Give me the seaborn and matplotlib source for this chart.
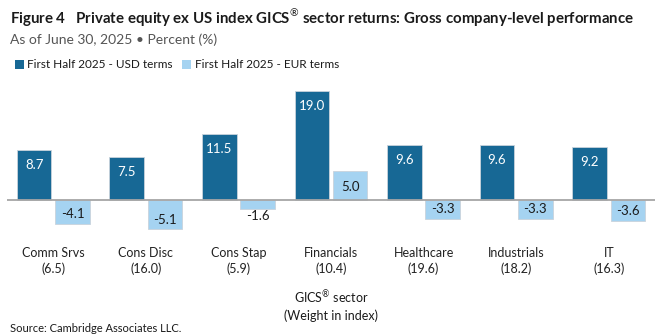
import matplotlib
matplotlib.use("Agg")
import matplotlib.pyplot as plt
import seaborn as sns
import pandas as pd
from matplotlib.patches import Patch

sectors = ["Comm Srvs", "Cons Disc", "Cons Stap", "Financials", "Healthcare", "Industrials", "IT"]
weights = ["6.5", "16.0", "5.9", "10.4", "19.6", "18.2", "16.3"]
usd = [8.7, 7.5, 11.5, 19.0, 9.6, 9.6, 9.2]
eur = [-4.1, -5.1, -1.6, 5.0, -3.3, -3.3, -3.6]
series_names = ["First Half 2025 - USD terms", "First Half 2025 - EUR terms"]
colors = ["#176895", "#a5d3f1"]

sns.set_style("white")
plt.rcParams["font.family"] = ["Lato", "DejaVu Sans"]
plt.rcParams["mathtext.fontset"] = "custom"
plt.rcParams["mathtext.rm"] = "Lato"
plt.rcParams["mathtext.bf"] = "Lato:bold"

labels = [f"{s}\n({w})" for s, w in zip(sectors, weights)]
df = pd.DataFrame({
    "label": labels * 2,
    "value": usd + eur,
    "series": [series_names[0]] * len(usd) + [series_names[1]] * len(eur),
})

W, H = 672, 336
fig = plt.figure(figsize=(W / 100, H / 100), dpi=100)
ppu = 5.75
ymin, ymax = -6, 20
zero_px = 200
top_px = zero_px - ymax * ppu
bot_px = zero_px - ymin * ppu
ax = fig.add_axes([7 / W, 1 - bot_px / H, (655 - 7) / W, (bot_px - top_px) / H])

sns.barplot(data=df, x="label", y="value", hue="series", palette=colors,
            saturation=1, width=0.83, gap=0.1, edgecolor="#c9d3dc", linewidth=0.6,
            legend=False, ax=ax)
ax.set_ylim(ymin, ymax)
ax.set_xlim(-0.5, 6.5)
ax.axhline(0, color="#a6a6a6", lw=1.3, zorder=5)
for sp in ax.spines.values():
    sp.set_visible(False)
ax.set_yticks([])
ax.set_xlabel("")
ax.set_ylabel("")
ax.tick_params(axis="x", length=0, pad=9, labelsize=9, colors="#222222")
for t in ax.get_xticklabels():
    t.set_linespacing(1.3)

for ci, cont in enumerate(ax.containers):
    for bar in cont:
        h = bar.get_height()
        x = bar.get_x() + bar.get_width() / 2
        if h >= 0:
            ax.annotate(f"{h:.1f}", (x, h), xytext=(0, -11), textcoords="offset points",
                        ha="center", va="center", fontsize=9.5,
                        color="white" if ci == 0 else "#1a1a1a")
        else:
            if -h * ppu > 16:
                off = 7
            else:
                off = -5
            ax.annotate(f"{h:.1f}", (x, h), xytext=(0, off), textcoords="offset points",
                        ha="center", va="center", fontsize=9.5, color="#1a1a1a")

fig.text(10 / W, 1 - 18 / H,
         "Figure 4   Private equity ex US index GICS$^{\u00ae}$ sector returns: Gross company-level performance",
         fontsize=10.8, fontweight="bold", color="#1a1a1a", va="center", ha="left")
fig.text(10 / W, 1 - 40 / H, "As of June 30, 2025 \u2022 Percent (%)",
         fontsize=10, color="#555555", va="center", ha="left")

handles = [Patch(facecolor=c, edgecolor="none") for c in colors]
fig.legend(handles, series_names, loc="center left", bbox_to_anchor=(15 / W, 1 - 65 / H),
           ncol=2, frameon=False, fontsize=8.5, handlelength=0.75, handleheight=0.75,
           handletextpad=0.3, columnspacing=0.8, borderaxespad=0, borderpad=0,
           labelcolor="#1a1a1a")

fig.text(331 / W, 1 - 305 / H, "GICS$^{\u00ae}$ sector\n(Weight in index)", fontsize=9,
         ha="center", va="center", color="#1a1a1a", linespacing=1.3)
fig.text(10 / W, 1 - 328 / H, "Source: Cambridge Associates LLC.", fontsize=8,
         ha="left", va="center", color="#1a1a1a")

fig.savefig("out.png", dpi=100)
